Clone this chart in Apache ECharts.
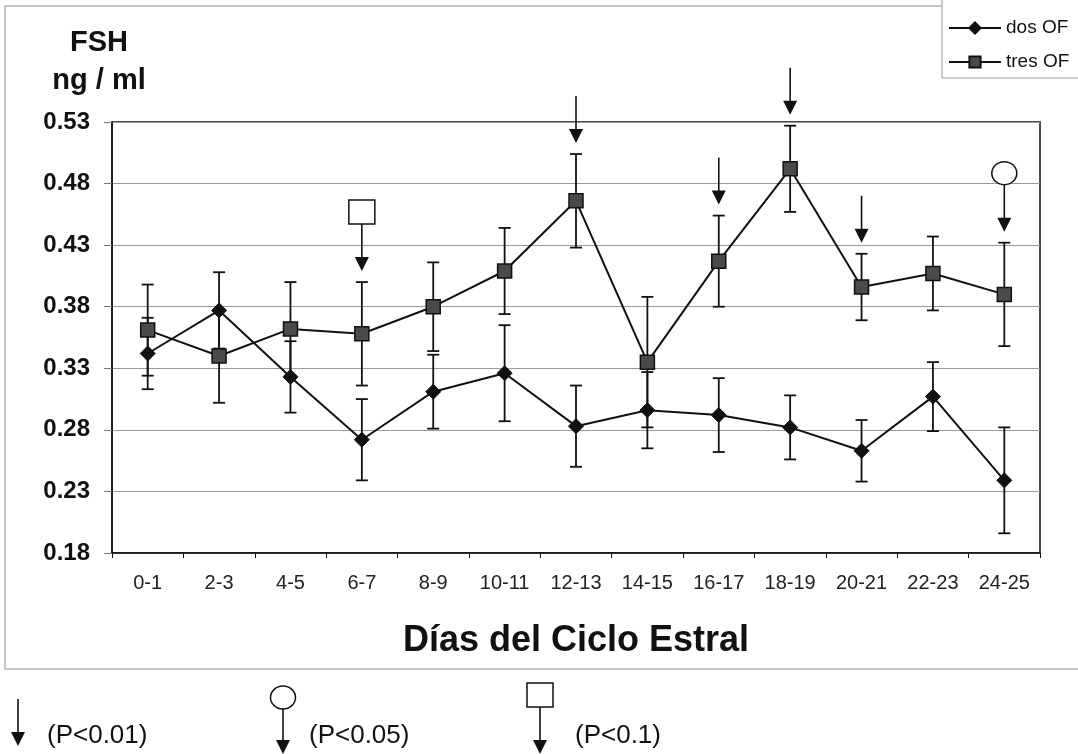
<!DOCTYPE html>
<html>
<head>
<meta charset="utf-8">
<script src="https://cdn.jsdelivr.net/npm/echarts@6/dist/echarts.min.js"></script>
<style>html,body{margin:0;padding:0;background:#fff;}#c{width:1078px;height:754px;}</style>
</head>
<body>
<div id="c"></div>
<script>
const categories = ['0-1','2-3','4-5','6-7','8-9','10-11','12-13','14-15','16-17','18-19','20-21','22-23','24-25'];
const dosOF   = [0.342, 0.377, 0.323, 0.272, 0.311, 0.326, 0.283, 0.296, 0.292, 0.282, 0.263, 0.307, 0.239];
const dosErr  = [0.029, 0.031, 0.029, 0.033, 0.030, 0.039, 0.033, 0.031, 0.030, 0.026, 0.025, 0.028, 0.043];
const tresOF  = [0.361, 0.340, 0.362, 0.358, 0.380, 0.409, 0.466, 0.335, 0.417, 0.492, 0.396, 0.407, 0.390];
const tresErr = [0.037, 0.038, 0.038, 0.042, 0.036, 0.035, 0.038, 0.053, 0.037, 0.035, 0.027, 0.030, 0.042];
const yTickLabels = ['0.18','0.23','0.28','0.33','0.38','0.43','0.48','0.53'];
const yMin = 0.18, yMax = 0.53;
const sigCategories = ['6-7','12-13','16-17','18-19','20-21','24-25'];
const sigMarks = ['square','arrow','arrow','arrow','arrow','circle'];
const pLabels = ['(P<0.01)','(P<0.05)','(P<0.1)'];
const seriesNames = ['dos OF','tres OF'];

const FONT = "'Liberation Sans', Arial, sans-serif";
const chart = echarts.init(document.getElementById('c'), null, {renderer:'canvas'});

function errRender(params, api){
  const x = api.value(0), m = api.value(1), e = api.value(2);
  const t = api.coord([x, m + e]), b = api.coord([x, m - e]);
  const w = 6;
  const st = {stroke:'#111', lineWidth:1.8};
  return {type:'group', children:[
    {type:'line', shape:{x1:t[0],y1:t[1],x2:b[0],y2:b[1]}, style:st},
    {type:'line', shape:{x1:t[0]-w,y1:t[1],x2:t[0]+w,y2:t[1]}, style:st},
    {type:'line', shape:{x1:b[0]-w,y1:b[1],x2:b[0]+w,y2:b[1]}, style:st}
  ]};
}

function arrowShapes(x, yStart, yTip, kind){
  const st = {stroke:'#111', lineWidth:1.6};
  const ch = [
    {type:'line', shape:{x1:x,y1:yStart,x2:x,y2:yTip-12}, style:st},
    {type:'polygon', shape:{points:[[x-7,yTip-14],[x+7,yTip-14],[x,yTip]]}, style:{fill:'#111'}}
  ];
  if (kind === 'circle') {
    ch.push({type:'ellipse', shape:{cx:x, cy:yStart-11.5, rx:12.5, ry:11.5}, style:{fill:'#fff', stroke:'#111', lineWidth:1.5}});
  } else if (kind === 'square') {
    ch.push({type:'rect', shape:{x:x-13, y:yStart-24, width:26, height:24}, style:{fill:'#fff', stroke:'#111', lineWidth:1.5}});
  }
  return ch;
}

function sigRender(params, api){
  const x = api.value(0), top = api.value(1);
  const p = api.coord([x, top]);
  const tip = p[1] - 11;
  const start = tip - 47;
  return {type:'group', children: arrowShapes(p[0], start, tip, sigMarks[params.dataIndex])};
}

// bottom key
const keyChildren = [];
function pushKey(x, yStart, yTip, kind, label, tx){
  arrowShapes(x, yStart, yTip, kind).forEach(c => keyChildren.push(c));
  keyChildren.push({type:'text', style:{text:label, x:tx, y:736, font:'26px '+FONT, fill:'#111', textVerticalAlign:'middle'}});
}
pushKey(18, 699, 746, 'arrow', pLabels[0], 47);
pushKey(283, 709, 754, 'circle', pLabels[1], 309);
pushKey(540, 707, 754, 'square', pLabels[2], 575);

const option = {
  animation:false,
  backgroundColor:'#fff',
  textStyle:{fontFamily:FONT},
  grid:{left:112, right:38, top:122, bottom:201, show:true, borderColor:'#111', borderWidth:1.5, backgroundColor:'transparent'},
  legend:{
    data:seriesNames, orient:'vertical', left:942, top:-2,
    padding:[20,80,6,6], itemGap:14, itemWidth:52, itemHeight:14,
    borderColor:'#999', borderWidth:1, backgroundColor:'#fff',
    textStyle:{fontSize:19, color:'#111', fontFamily:FONT, lineHeight:20}
  },
  xAxis:{
    type:'category', data:categories, boundaryGap:true,
    axisLine:{show:true, lineStyle:{color:'#111', width:1.5}},
    axisTick:{show:true, length:5, inside:false, lineStyle:{color:'#111'}},
    axisLabel:{fontSize:20, color:'#222', margin:20, fontFamily:FONT, interval:0},
    splitLine:{show:false},
    name:'Días del Ciclo Estral', nameLocation:'middle', nameGap:70,
    nameTextStyle:{fontSize:36, fontWeight:'bold', color:'#111', fontFamily:FONT}
  },
  yAxis:[
    {type:'value', min:yMin, max:yMax, show:false, splitLine:{show:false}},
    {type:'category', data:yTickLabels, boundaryGap:false, position:'left',
     axisLine:{show:true, lineStyle:{color:'#111', width:1.5}},
     axisTick:{show:true, length:8, inside:false, lineStyle:{color:'#777'}},
     axisLabel:{fontSize:24, fontWeight:'bold', color:'#111', margin:22, fontFamily:FONT},
     splitLine:{show:true, lineStyle:{color:'#999', width:1}}}
  ],
  graphic:[
    {type:'rect', shape:{x:5, y:6, width:1100, height:663}, style:{fill:'none', stroke:'#b5b5b5', lineWidth:1.5}, z:-10, silent:true},
    {type:'text', style:{text:'FSH', x:99, y:43, font:'bold 29px '+FONT, fill:'#111', textAlign:'center', textVerticalAlign:'middle'}},
    {type:'text', style:{text:'ng / ml', x:99, y:81, font:'bold 29px '+FONT, fill:'#111', textAlign:'center', textVerticalAlign:'middle'}},
    {type:'group', children:keyChildren}
  ],
  series:[
    {type:'custom', name:'dosErr', yAxisIndex:0, renderItem:errRender, z:2, silent:true,
     data:categories.map((c,i)=>[i, dosOF[i], dosErr[i]])},
    {type:'custom', name:'tresErr', yAxisIndex:0, renderItem:errRender, z:2, silent:true,
     data:categories.map((c,i)=>[i, tresOF[i], tresErr[i]])},
    {type:'line', name:seriesNames[0], yAxisIndex:0, data:dosOF, symbol:'diamond', symbolSize:15,
     lineStyle:{color:'#111', width:2}, itemStyle:{color:'#111', borderColor:'#111', borderWidth:1}, z:4},
    {type:'line', name:seriesNames[1], yAxisIndex:0, data:tresOF, symbol:'rect', symbolSize:14,
     lineStyle:{color:'#111', width:2}, itemStyle:{color:'#4a4a4a', borderColor:'#111', borderWidth:1.5}, z:4},
    {type:'custom', name:'sig', yAxisIndex:0, renderItem:sigRender, z:5, silent:true, clip:false,
     data:sigCategories.map(c=>{const i=categories.indexOf(c); return [i, tresOF[i]+tresErr[i]];})}
  ]
};
chart.setOption(option);
</script>
</body>
</html>
